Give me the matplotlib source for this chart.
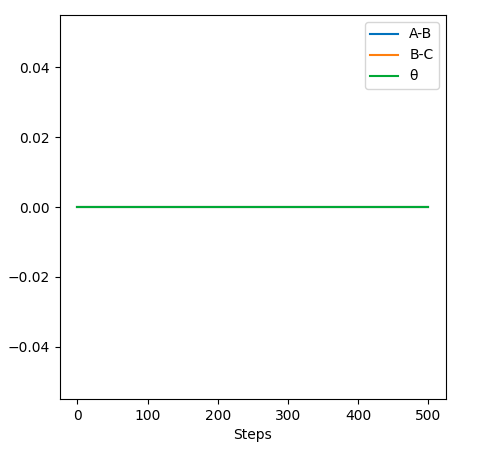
import matplotlib
matplotlib.use("Agg")
import matplotlib.pyplot as plt

steps = [0, 250, 500]
ab = [0.0, 0.0, 0.0]
bc = [0.0, 0.0, 0.0]
theta = [0.0, 0.0, 0.0]

fig, ax = plt.subplots(figsize=(4.95, 4.54), dpi=100)
ax.plot(steps, ab, color="#0072bd", label="A-B")
ax.plot(steps, bc, color="#ff7f0e", label="B-C")
ax.plot(steps, theta, color="#00a835", label="θ")
ax.set_xlabel("Steps")
ax.legend(loc="upper right")
fig.subplots_adjust(left=0.121, right=0.901, top=0.967, bottom=0.121)
fig.savefig("out.png", dpi=100)
